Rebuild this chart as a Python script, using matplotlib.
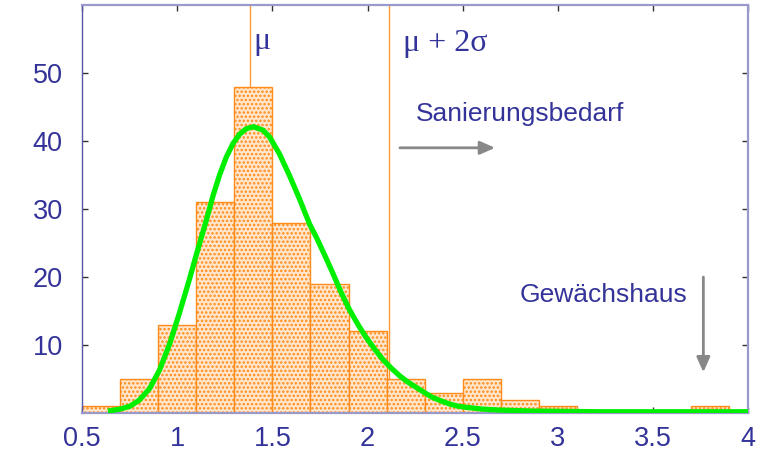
import matplotlib.pyplot as plt

# histogram: bins of width 0.2 starting at 0.5
bin_left = [0.5, 0.7, 0.9, 1.1, 1.3, 1.5, 1.7, 1.9, 2.1, 2.3, 2.5, 2.7, 2.9, 3.1, 3.3, 3.5, 3.7]
counts = [1, 5, 13, 31, 48, 28, 19, 12, 5, 3, 5, 2, 1, 0, 0, 0, 1]
bin_width = 0.2

# fitted density curve
curve_x = [0.635, 0.70, 0.75, 0.80, 0.854, 0.906, 0.96, 1.012, 1.065, 1.10, 1.152,
           1.187, 1.222, 1.257, 1.292, 1.327, 1.362, 1.40, 1.45, 1.485, 1.537, 1.59,
           1.642, 1.695, 1.73, 1.775, 1.817, 1.86, 1.905, 1.95, 1.993, 2.04, 2.08,
           2.125, 2.168, 2.21, 2.255, 2.30, 2.342, 2.39, 2.43, 2.47, 2.518, 2.6,
           2.69, 2.87, 3.22, 3.6, 4.0]
curve_y = [0.3, 0.6, 1.0, 1.9, 3.6, 6.3, 10.2, 14.8, 19.8, 23.3, 28.3,
           31.9, 35.0, 37.6, 39.6, 41.0, 41.8, 42.1, 41.6, 40.6, 38.1, 34.9,
           31.5, 27.8, 25.9, 23.2, 20.6, 17.8, 15.2, 13.0, 11.1, 9.3, 7.9,
           6.6, 5.5, 4.6, 3.8, 3.0, 2.3, 1.75, 1.35, 1.05, 0.85, 0.6,
           0.45, 0.3, 0.2, 0.2, 0.2]

mu = 1.38
mu_2sigma = 2.115

xticks = [0.5, 1, 1.5, 2, 2.5, 3, 3.5, 4]
xtick_labels = ['0.5', '1', '1.5', '2', '2.5', '3', '3.5', '4']
yticks = [10, 20, 30, 40, 50]

text_col = '#333399'
orange = '#ff8c1a'

plt.rcParams['hatch.linewidth'] = 1.2
fig = plt.figure(figsize=(7.61, 4.51), dpi=100)
ax = fig.add_axes([0.108, 0.084, 0.875, 0.905])

ax.axvline(mu, color='#ff9933', lw=1, zorder=1)
ax.axvline(mu_2sigma, color='#ff9933', lw=1, zorder=1)

ax.bar(bin_left, counts, width=bin_width, align='edge', facecolor='#ffe6cc',
       edgecolor=orange, hatch='....', linewidth=1, zorder=2)

ax.plot(curve_x, curve_y, color='#00ee00', lw=3.8, zorder=4,
        solid_capstyle='butt', solid_joinstyle='round')

ax.text(mu + 0.02, 53.5, 'μ', family='Liberation Serif', fontsize=23, color=text_col,
        va='baseline')
ax.text(2.185, 53.3, 'μ + 2σ', family='Liberation Serif', fontsize=23, color=text_col,
        va='baseline')
ax.text(2.255, 44.0, 'Sanierungsbedarf', family='Liberation Sans', fontsize=19,
        color=text_col, va='center')
ax.text(2.798, 17.3, 'Gewächshaus', family='Liberation Sans', fontsize=19,
        color=text_col, va='center')

arrow_kw = dict(arrowstyle='-|>,head_length=0.9,head_width=0.4', color='#888888', lw=2,
                shrinkA=0, shrinkB=0)
ax.annotate('', xy=(2.67, 39.0), xytext=(2.17, 39.0), arrowprops=arrow_kw, zorder=5)
ax.annotate('', xy=(3.765, 6.0), xytext=(3.765, 20.0), arrowprops=arrow_kw, zorder=5)

ax.set_xlim(0.5, 4)
ax.set_ylim(0, 60)
ax.set_xticks(xticks)
ax.set_xticklabels(xtick_labels)
ax.set_yticks(yticks)
ax.tick_params(direction='in', length=4, width=1, color='#333333', top=True, right=True,
               labelsize=19.5, labelcolor=text_col)
ax.tick_params(axis='x', pad=9)
ax.tick_params(axis='y', pad=14)
for lab in ax.get_xticklabels() + ax.get_yticklabels():
    lab.set_family('Liberation Sans')

for side in ['top', 'right', 'bottom']:
    ax.spines[side].set_color('#9999cc')
    ax.spines[side].set_linewidth(1.6)
ax.spines['left'].set_color('#5555aa')
ax.spines['left'].set_linewidth(1)

fig.savefig('out.png', dpi=100)
